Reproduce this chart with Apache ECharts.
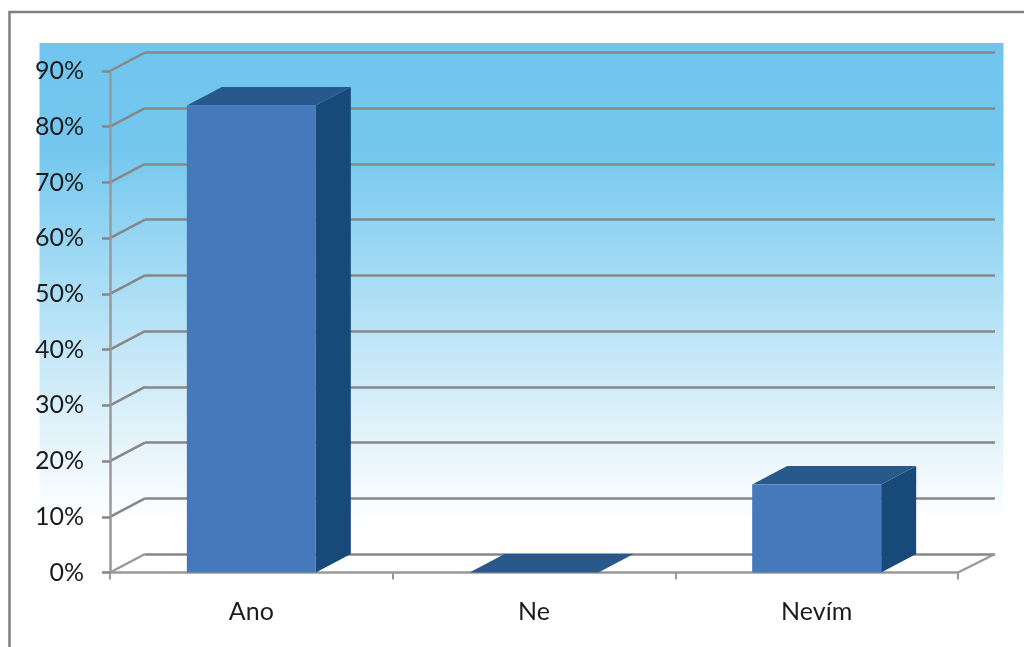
<!DOCTYPE html>
<html><head><meta charset="utf-8">
<style>html,body{margin:0;padding:0;background:#fff}#c{width:1024px;height:647px}</style>
<script src="https://cdn.jsdelivr.net/npm/echarts@6/dist/echarts.min.js"></script>
</head><body><div id="c"></div>
<script>
const categories = ['Ano', 'Ne', 'Nevím'];
const values = [83.8, 0, 15.8];
const yTicks = [0, 10, 20, 30, 40, 50, 60, 70, 80, 90];
const DX = 35, DY = -18.5;
const chart = echarts.init(document.getElementById('c'), null, {renderer:'canvas'});
const GRAY = '#878787';
chart.setOption({
  animation:false,
  backgroundColor:'#fff',
  graphic:[
    {type:'rect',z:-10,shape:{x:39.5,y:43,width:964,height:480},
      style:{fill:new echarts.graphic.LinearGradient(0,0,0,1,[
        {offset:0,color:'#70c5ee'},{offset:0.22,color:'#74c7ef'},{offset:0.5,color:'#a8ddf5'},
        {offset:0.8,color:'#e0f2fa'},{offset:1,color:'#ffffff'}])}},
    {type:'polyline',z:-9,shape:{points:[[9.5,647],[9.5,12],[1024,12]]},
      style:{fill:null,stroke:'#808080',lineWidth:2.5}}
  ],
  grid:[
    {left:110,top:71,width:848,height:501.5},
    {left:110+DX,top:71+DY,width:850,height:501.5}
  ],
  xAxis:[
    {gridIndex:0,type:'category',data:categories,boundaryGap:true,
      axisLine:{show:true,lineStyle:{color:'#999',width:2.5}},
      axisTick:{show:true,length:7,alignWithLabel:false,lineStyle:{color:'#999',width:2}},
      axisLabel:{color:'#1c1c1c',fontFamily:'Lato',fontSize:25,margin:27},z:3},
    {gridIndex:1,type:'category',data:categories,show:false}
  ],
  yAxis:[
    {gridIndex:0,type:'value',min:0,max:90,interval:10,
      axisLine:{show:true,lineStyle:{color:'#999',width:2.5}},
      axisTick:{show:true,length:8,lineStyle:{color:GRAY,width:2.5}},
      axisLabel:{color:'#1c1c1c',fontFamily:'Lato',fontSize:25,margin:26,formatter:'{value}%'},
      splitLine:{show:false},z:3},
    {gridIndex:1,type:'value',min:0,max:90,interval:10,
      axisLine:{show:false},axisTick:{show:false},axisLabel:{show:false},
      splitLine:{show:true,lineStyle:{color:GRAY,width:2.5}}}
  ],
  series:[
    {type:'custom',name:'walls',xAxisIndex:0,yAxisIndex:0,z:1,clip:false,silent:true,
      data:yTicks.map(v=>[0,v]),
      encode:{y:1},
      renderItem:(p,api)=>{
        const v=api.value(1), c=api.coord([0,v]);
        const x=p.coordSys.x, y=c[1];
        const st={stroke:v===0?'#999':GRAY,lineWidth:2.5,fill:null};
        const kids=[{type:'line',shape:{x1:x,y1:y,x2:x+DX,y2:y+DY},style:st}];
        if(v===0){
          const r=p.coordSys.x+p.coordSys.width;
          kids.push({type:'line',shape:{x1:r,y1:y,x2:r+DX+2,y2:y+DY},style:st});
        }
        return {type:'group',children:kids};
      }},
    {type:'custom',name:'Hodnota',xAxisIndex:0,yAxisIndex:0,z:5,clip:false,
      data:values.map((v,i)=>[i,v]),
      encode:{x:0,y:1},
      renderItem:(p,api)=>{
        const i=api.value(0), v=api.value(1);
        const top=api.coord([i,v]), base=api.coord([i,0]);
        const w=api.size([1,0])[0]*0.4563;
        const l=top[0]-w/2, r=top[0]+w/2, t=top[1], b=base[1];
        return {type:'group',children:[
          {type:'polygon',shape:{points:[[r,t],[r+DX,t+DY],[r+DX,b+DY],[r,b]]},style:{fill:'#174a78'}},
          {type:'polygon',shape:{points:[[l,t],[l+DX,t+DY],[r+DX,t+DY],[r,t]]},style:{fill:'#29588c'}},
          {type:'rect',shape:{x:l,y:t,width:w,height:b-t},style:{fill:'#4679bb'}}
        ]};
      }}
  ]
});
</script></body></html>
